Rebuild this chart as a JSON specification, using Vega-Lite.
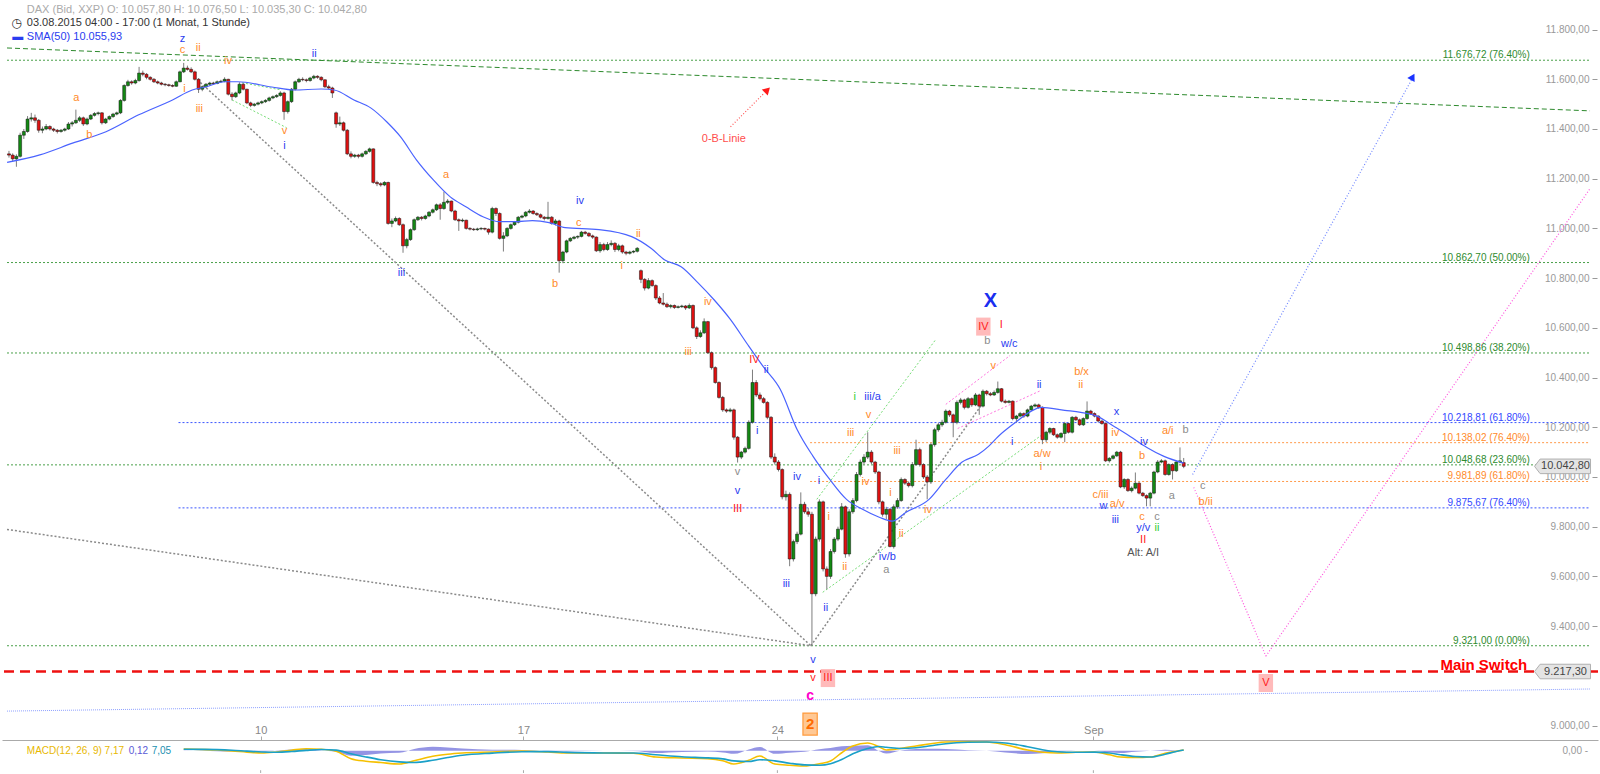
{
"$schema":"https://vega.github.io/schema/vega-lite/v6.json",
"width":1600,"height":774,"padding":0,
"autosize":{"type":"fit","contains":"padding"},
"background":"#ffffff",
"config":{"view":{"stroke":null},"font":"Liberation Sans"},
"datasets":{
"candles":[
{"b":0,"o":11300,"h":11312,"l":11285,"c":11295},{"b":1,"o":11295,"h":11302,"l":11270,"c":11280},{"b":2,"o":11280,"h":11298,"l":11248,"c":11290},{"b":3,"o":11290,"h":11385,"l":11285,"c":11375},{"b":4,"o":11375,"h":11400,"l":11360,"c":11390},{"b":5,"o":11390,"h":11452,"l":11385,"c":11440},{"b":6,"o":11440,"h":11465,"l":11430,"c":11445},{"b":7,"o":11445,"h":11458,"l":11425,"c":11435},{"b":8,"o":11435,"h":11440,"l":11385,"c":11395},{"b":9,"o":11395,"h":11410,"l":11383,"c":11400},
{"b":10,"o":11400,"h":11420,"l":11395,"c":11410},{"b":11,"o":11410,"h":11415,"l":11394,"c":11400},{"b":12,"o":11400,"h":11405,"l":11388,"c":11395},{"b":13,"o":11395,"h":11400,"l":11382,"c":11390},{"b":14,"o":11390,"h":11400,"l":11385,"c":11395},{"b":15,"o":11395,"h":11405,"l":11390,"c":11400},{"b":16,"o":11400,"h":11428,"l":11396,"c":11420},{"b":17,"o":11420,"h":11432,"l":11410,"c":11425},{"b":18,"o":11425,"h":11478,"l":11420,"c":11435},{"b":19,"o":11435,"h":11452,"l":11428,"c":11445},
{"b":20,"o":11445,"h":11450,"l":11412,"c":11420},{"b":21,"o":11420,"h":11446,"l":11415,"c":11440},{"b":22,"o":11440,"h":11460,"l":11436,"c":11455},{"b":23,"o":11455,"h":11468,"l":11450,"c":11462},{"b":24,"o":11462,"h":11470,"l":11455,"c":11465},{"b":25,"o":11465,"h":11468,"l":11418,"c":11425},{"b":26,"o":11425,"h":11445,"l":11420,"c":11440},{"b":27,"o":11440,"h":11455,"l":11435,"c":11450},{"b":28,"o":11450,"h":11465,"l":11445,"c":11460},{"b":29,"o":11460,"h":11470,"l":11455,"c":11465},
{"b":30,"o":11465,"h":11520,"l":11460,"c":11515},{"b":31,"o":11515,"h":11580,"l":11510,"c":11575},{"b":32,"o":11575,"h":11598,"l":11570,"c":11590},{"b":33,"o":11590,"h":11596,"l":11578,"c":11585},{"b":34,"o":11585,"h":11602,"l":11580,"c":11595},{"b":35,"o":11595,"h":11650,"l":11590,"c":11625},{"b":36,"o":11625,"h":11635,"l":11612,"c":11620},{"b":37,"o":11620,"h":11625,"l":11600,"c":11608},{"b":38,"o":11608,"h":11612,"l":11595,"c":11600},{"b":39,"o":11600,"h":11605,"l":11585,"c":11590},
{"b":40,"o":11590,"h":11595,"l":11580,"c":11585},{"b":41,"o":11585,"h":11590,"l":11575,"c":11580},{"b":42,"o":11580,"h":11585,"l":11572,"c":11578},{"b":43,"o":11578,"h":11582,"l":11570,"c":11575},{"b":44,"o":11575,"h":11580,"l":11568,"c":11572},{"b":45,"o":11572,"h":11595,"l":11570,"c":11590},{"b":46,"o":11590,"h":11635,"l":11588,"c":11630},{"b":47,"o":11630,"h":11666,"l":11625,"c":11645},{"b":48,"o":11645,"h":11655,"l":11635,"c":11640},{"b":49,"o":11640,"h":11648,"l":11625,"c":11630},
{"b":50,"o":11630,"h":11635,"l":11595,"c":11600},{"b":51,"o":11600,"h":11605,"l":11545,"c":11560},{"b":52,"o":11560,"h":11575,"l":11552,"c":11570},{"b":53,"o":11570,"h":11585,"l":11565,"c":11580},{"b":54,"o":11580,"h":11590,"l":11575,"c":11585},{"b":55,"o":11585,"h":11590,"l":11578,"c":11583},{"b":56,"o":11583,"h":11595,"l":11580,"c":11590},{"b":57,"o":11590,"h":11598,"l":11585,"c":11592},{"b":58,"o":11592,"h":11608,"l":11588,"c":11600},{"b":59,"o":11600,"h":11602,"l":11535,"c":11540},
{"b":60,"o":11540,"h":11548,"l":11515,"c":11530},{"b":61,"o":11530,"h":11550,"l":11525,"c":11545},{"b":62,"o":11545,"h":11588,"l":11540,"c":11580},{"b":63,"o":11580,"h":11585,"l":11555,"c":11560},{"b":64,"o":11560,"h":11562,"l":11500,"c":11505},{"b":65,"o":11505,"h":11510,"l":11488,"c":11495},{"b":66,"o":11495,"h":11505,"l":11490,"c":11500},{"b":67,"o":11500,"h":11510,"l":11495,"c":11505},{"b":68,"o":11505,"h":11515,"l":11500,"c":11510},{"b":69,"o":11510,"h":11520,"l":11505,"c":11515},
{"b":70,"o":11515,"h":11530,"l":11510,"c":11525},{"b":71,"o":11525,"h":11535,"l":11520,"c":11530},{"b":72,"o":11530,"h":11540,"l":11525,"c":11535},{"b":73,"o":11535,"h":11552,"l":11530,"c":11545},{"b":74,"o":11545,"h":11550,"l":11437,"c":11470},{"b":75,"o":11470,"h":11515,"l":11462,"c":11510},{"b":76,"o":11510,"h":11565,"l":11505,"c":11560},{"b":77,"o":11560,"h":11595,"l":11555,"c":11590},{"b":78,"o":11590,"h":11606,"l":11585,"c":11600},{"b":79,"o":11600,"h":11608,"l":11592,"c":11598},
{"b":80,"o":11598,"h":11603,"l":11588,"c":11595},{"b":81,"o":11595,"h":11610,"l":11590,"c":11605},{"b":82,"o":11605,"h":11618,"l":11600,"c":11612},{"b":83,"o":11612,"h":11616,"l":11602,"c":11608},{"b":84,"o":11608,"h":11612,"l":11592,"c":11598},{"b":85,"o":11598,"h":11600,"l":11565,"c":11570},{"b":86,"o":11570,"h":11578,"l":11560,"c":11565},{"b":87,"o":11565,"h":11570,"l":11525,"c":11545},{"b":88,"o":11465,"h":11470,"l":11405,"c":11420},{"b":89,"o":11420,"h":11450,"l":11412,"c":11425},
{"b":90,"o":11425,"h":11430,"l":11390,"c":11395},{"b":91,"o":11395,"h":11400,"l":11295,"c":11300},{"b":92,"o":11300,"h":11310,"l":11282,"c":11290},{"b":93,"o":11290,"h":11300,"l":11284,"c":11295},{"b":94,"o":11295,"h":11300,"l":11282,"c":11290},{"b":95,"o":11290,"h":11305,"l":11285,"c":11300},{"b":96,"o":11300,"h":11315,"l":11295,"c":11310},{"b":97,"o":11310,"h":11325,"l":11305,"c":11320},{"b":98,"o":11320,"h":11322,"l":11180,"c":11185},{"b":99,"o":11185,"h":11192,"l":11170,"c":11180},
{"b":100,"o":11180,"h":11186,"l":11168,"c":11175},{"b":101,"o":11175,"h":11190,"l":11170,"c":11185},{"b":102,"o":11185,"h":11188,"l":11015,"c":11020},{"b":103,"o":11020,"h":11040,"l":11005,"c":11030},{"b":104,"o":11030,"h":11048,"l":11025,"c":11040},{"b":105,"o":11040,"h":11045,"l":11010,"c":11015},{"b":106,"o":11015,"h":11020,"l":10902,"c":10930},{"b":107,"o":10930,"h":10962,"l":10920,"c":10955},{"b":108,"o":10955,"h":11000,"l":10950,"c":10995},{"b":109,"o":10995,"h":11040,"l":10990,"c":11035},
{"b":110,"o":11035,"h":11050,"l":11030,"c":11045},{"b":111,"o":11045,"h":11050,"l":11032,"c":11040},{"b":112,"o":11040,"h":11055,"l":11035,"c":11050},{"b":113,"o":11050,"h":11070,"l":11045,"c":11065},{"b":114,"o":11065,"h":11080,"l":11060,"c":11075},{"b":115,"o":11075,"h":11100,"l":11070,"c":11095},{"b":116,"o":11095,"h":11102,"l":11035,"c":11080},{"b":117,"o":11080,"h":11148,"l":11075,"c":11105},{"b":118,"o":11105,"h":11118,"l":11098,"c":11110},{"b":119,"o":11110,"h":11112,"l":11065,"c":11070},
{"b":120,"o":11070,"h":11075,"l":11030,"c":11035},{"b":121,"o":11035,"h":11040,"l":10990,"c":11030},{"b":122,"o":11030,"h":11040,"l":11025,"c":11033},{"b":123,"o":11033,"h":11035,"l":10995,"c":11000},{"b":124,"o":11000,"h":11005,"l":10992,"c":10997},{"b":125,"o":10997,"h":11002,"l":10990,"c":10995},{"b":126,"o":10995,"h":11003,"l":10990,"c":10998},{"b":127,"o":10998,"h":11005,"l":10993,"c":11000},{"b":128,"o":11000,"h":11003,"l":10992,"c":10997},{"b":129,"o":10997,"h":11000,"l":10975,"c":10985},
{"b":130,"o":10985,"h":11087,"l":10980,"c":11080},{"b":131,"o":11080,"h":11085,"l":11050,"c":11060},{"b":132,"o":11060,"h":11065,"l":10955,"c":10960},{"b":133,"o":10960,"h":10985,"l":10907,"c":10970},{"b":134,"o":10970,"h":11005,"l":10965,"c":11000},{"b":135,"o":11000,"h":11020,"l":10995,"c":11015},{"b":136,"o":11015,"h":11030,"l":11010,"c":11025},{"b":137,"o":11025,"h":11050,"l":11020,"c":11045},{"b":138,"o":11045,"h":11055,"l":11040,"c":11050},{"b":139,"o":11050,"h":11070,"l":11045,"c":11065},
{"b":140,"o":11065,"h":11078,"l":11060,"c":11070},{"b":141,"o":11070,"h":11074,"l":11055,"c":11060},{"b":142,"o":11060,"h":11065,"l":11050,"c":11055},{"b":143,"o":11055,"h":11060,"l":11040,"c":11045},{"b":144,"o":11045,"h":11050,"l":11032,"c":11040},{"b":145,"o":11040,"h":11107,"l":11035,"c":11045},{"b":146,"o":11045,"h":11050,"l":11015,"c":11020},{"b":147,"o":11020,"h":11038,"l":11012,"c":11030},{"b":148,"o":11030,"h":11035,"l":10822,"c":10870},{"b":149,"o":10870,"h":10910,"l":10860,"c":10905},
{"b":150,"o":10905,"h":10955,"l":10900,"c":10950},{"b":151,"o":10950,"h":10965,"l":10945,"c":10960},{"b":152,"o":10960,"h":10970,"l":10955,"c":10965},{"b":153,"o":10965,"h":10972,"l":10958,"c":10968},{"b":154,"o":10968,"h":10990,"l":10964,"c":10985},{"b":155,"o":10985,"h":10990,"l":10975,"c":10980},{"b":156,"o":10980,"h":10985,"l":10965,"c":10970},{"b":157,"o":10970,"h":10975,"l":10958,"c":10965},{"b":158,"o":10965,"h":10968,"l":10905,"c":10910},{"b":159,"o":10910,"h":10945,"l":10902,"c":10935},
{"b":160,"o":10935,"h":10942,"l":10908,"c":10915},{"b":161,"o":10915,"h":10945,"l":10910,"c":10935},{"b":162,"o":10935,"h":10952,"l":10928,"c":10940},{"b":163,"o":10940,"h":10945,"l":10905,"c":10915},{"b":164,"o":10915,"h":10938,"l":10908,"c":10930},{"b":165,"o":10930,"h":10935,"l":10898,"c":10905},{"b":166,"o":10905,"h":10910,"l":10892,"c":10900},{"b":167,"o":10900,"h":10910,"l":10895,"c":10905},{"b":168,"o":10905,"h":10912,"l":10900,"c":10908},{"b":169,"o":10908,"h":10925,"l":10903,"c":10920},
{"b":170,"o":10830,"h":10835,"l":10780,"c":10795},{"b":171,"o":10795,"h":10800,"l":10750,"c":10760},{"b":172,"o":10760,"h":10800,"l":10755,"c":10790},{"b":173,"o":10790,"h":10795,"l":10765,"c":10770},{"b":174,"o":10770,"h":10775,"l":10712,"c":10720},{"b":175,"o":10720,"h":10728,"l":10695,"c":10700},{"b":176,"o":10700,"h":10740,"l":10690,"c":10695},{"b":177,"o":10695,"h":10702,"l":10680,"c":10685},{"b":178,"o":10685,"h":10695,"l":10678,"c":10690},{"b":179,"o":10690,"h":10694,"l":10676,"c":10682},
{"b":180,"o":10682,"h":10690,"l":10678,"c":10685},{"b":181,"o":10685,"h":10693,"l":10680,"c":10688},{"b":182,"o":10688,"h":10692,"l":10672,"c":10680},{"b":183,"o":10680,"h":10698,"l":10676,"c":10690},{"b":184,"o":10690,"h":10694,"l":10595,"c":10600},{"b":185,"o":10600,"h":10606,"l":10555,"c":10565},{"b":186,"o":10565,"h":10590,"l":10560,"c":10580},{"b":187,"o":10580,"h":10638,"l":10575,"c":10625},{"b":188,"o":10625,"h":10628,"l":10495,"c":10500},{"b":189,"o":10500,"h":10505,"l":10432,"c":10440},
{"b":190,"o":10440,"h":10445,"l":10375,"c":10380},{"b":191,"o":10380,"h":10385,"l":10315,"c":10320},{"b":192,"o":10320,"h":10326,"l":10262,"c":10270},{"b":193,"o":10270,"h":10276,"l":10258,"c":10265},{"b":194,"o":10265,"h":10278,"l":10260,"c":10270},{"b":195,"o":10270,"h":10275,"l":10150,"c":10160},{"b":196,"o":10160,"h":10165,"l":10058,"c":10080},{"b":197,"o":10080,"h":10105,"l":10072,"c":10100},{"b":198,"o":10100,"h":10122,"l":10094,"c":10115},{"b":199,"o":10115,"h":10228,"l":10110,"c":10220},
{"b":200,"o":10220,"h":10432,"l":10215,"c":10380},{"b":201,"o":10380,"h":10390,"l":10322,"c":10330},{"b":202,"o":10330,"h":10340,"l":10308,"c":10315},{"b":203,"o":10315,"h":10322,"l":10295,"c":10300},{"b":204,"o":10300,"h":10305,"l":10232,"c":10240},{"b":205,"o":10240,"h":10245,"l":10072,"c":10080},{"b":206,"o":10080,"h":10095,"l":10050,"c":10060},{"b":207,"o":10060,"h":10068,"l":10022,"c":10030},{"b":208,"o":10030,"h":10035,"l":9910,"c":9920},{"b":209,"o":9920,"h":9945,"l":9905,"c":9930},
{"b":210,"o":9930,"h":9938,"l":9641,"c":9670},{"b":211,"o":9670,"h":9748,"l":9660,"c":9740},{"b":212,"o":9740,"h":9780,"l":9730,"c":9770},{"b":213,"o":9770,"h":9938,"l":9765,"c":9890},{"b":214,"o":9890,"h":9900,"l":9852,"c":9860},{"b":215,"o":9860,"h":9875,"l":9840,"c":9850},{"b":216,"o":9850,"h":9860,"l":9321,"c":9530},{"b":217,"o":9530,"h":9760,"l":9520,"c":9750},{"b":218,"o":9750,"h":9910,"l":9740,"c":9900},{"b":219,"o":9900,"h":9905,"l":9620,"c":9630},
{"b":220,"o":9630,"h":9640,"l":9548,"c":9600},{"b":221,"o":9600,"h":9710,"l":9590,"c":9700},{"b":222,"o":9700,"h":9758,"l":9692,"c":9750},{"b":223,"o":9750,"h":9800,"l":9742,"c":9790},{"b":224,"o":9790,"h":9895,"l":9785,"c":9880},{"b":225,"o":9880,"h":9885,"l":9675,"c":9690},{"b":226,"o":9690,"h":9870,"l":9680,"c":9860},{"b":227,"o":9860,"h":9915,"l":9852,"c":9905},{"b":228,"o":9905,"h":10020,"l":9898,"c":10010},{"b":229,"o":10010,"h":10070,"l":10002,"c":10060},
{"b":230,"o":10060,"h":10092,"l":10050,"c":10080},{"b":231,"o":10080,"h":10180,"l":10072,"c":10100},{"b":232,"o":10100,"h":10108,"l":10052,"c":10060},{"b":233,"o":10060,"h":10065,"l":10012,"c":10020},{"b":234,"o":10020,"h":10025,"l":9890,"c":9900},{"b":235,"o":9900,"h":9905,"l":9840,"c":9850},{"b":236,"o":9850,"h":9880,"l":9830,"c":9870},{"b":237,"o":9870,"h":9875,"l":9717,"c":9720},{"b":238,"o":9720,"h":9890,"l":9712,"c":9880},{"b":239,"o":9880,"h":9915,"l":9872,"c":9905},
{"b":240,"o":9905,"h":9998,"l":9900,"c":9990},{"b":241,"o":9990,"h":9995,"l":9968,"c":9975},{"b":242,"o":9975,"h":9982,"l":9958,"c":9965},{"b":243,"o":9965,"h":10060,"l":9958,"c":10050},{"b":244,"o":10050,"h":10150,"l":10045,"c":10110},{"b":245,"o":10110,"h":10118,"l":10042,"c":10050},{"b":246,"o":10050,"h":10055,"l":9992,"c":10000},{"b":247,"o":10000,"h":10008,"l":9910,"c":9980},{"b":248,"o":9980,"h":10138,"l":9972,"c":10130},{"b":249,"o":10130,"h":10198,"l":10122,"c":10190},
{"b":250,"o":10190,"h":10218,"l":10182,"c":10210},{"b":251,"o":10210,"h":10230,"l":10202,"c":10220},{"b":252,"o":10220,"h":10272,"l":10215,"c":10265},{"b":253,"o":10265,"h":10270,"l":10242,"c":10250},{"b":254,"o":10250,"h":10255,"l":10160,"c":10220},{"b":255,"o":10220,"h":10308,"l":10212,"c":10300},{"b":256,"o":10300,"h":10318,"l":10292,"c":10310},{"b":257,"o":10310,"h":10315,"l":10272,"c":10280},{"b":258,"o":10280,"h":10322,"l":10275,"c":10315},{"b":259,"o":10315,"h":10320,"l":10282,"c":10290},
{"b":260,"o":10290,"h":10338,"l":10285,"c":10330},{"b":261,"o":10330,"h":10335,"l":10250,"c":10285},{"b":262,"o":10285,"h":10352,"l":10280,"c":10345},{"b":263,"o":10345,"h":10350,"l":10328,"c":10335},{"b":264,"o":10335,"h":10342,"l":10325,"c":10330},{"b":265,"o":10330,"h":10348,"l":10326,"c":10340},{"b":266,"o":10340,"h":10384,"l":10335,"c":10355},{"b":267,"o":10355,"h":10358,"l":10300,"c":10305},{"b":268,"o":10305,"h":10312,"l":10295,"c":10300},{"b":269,"o":10300,"h":10310,"l":10296,"c":10305},
{"b":270,"o":10305,"h":10308,"l":10228,"c":10235},{"b":271,"o":10235,"h":10250,"l":10218,"c":10245},{"b":272,"o":10245,"h":10262,"l":10240,"c":10255},{"b":273,"o":10255,"h":10260,"l":10238,"c":10245},{"b":274,"o":10245,"h":10275,"l":10240,"c":10270},{"b":275,"o":10270,"h":10290,"l":10265,"c":10285},{"b":276,"o":10285,"h":10296,"l":10280,"c":10290},{"b":277,"o":10290,"h":10295,"l":10274,"c":10280},{"b":278,"o":10280,"h":10284,"l":10132,"c":10150},{"b":279,"o":10150,"h":10186,"l":10140,"c":10180},
{"b":280,"o":10180,"h":10200,"l":10172,"c":10195},{"b":281,"o":10195,"h":10198,"l":10165,"c":10170},{"b":282,"o":10170,"h":10175,"l":10154,"c":10160},{"b":283,"o":10160,"h":10180,"l":10155,"c":10175},{"b":284,"o":10175,"h":10222,"l":10140,"c":10215},{"b":285,"o":10215,"h":10218,"l":10175,"c":10180},{"b":286,"o":10180,"h":10245,"l":10175,"c":10240},{"b":287,"o":10240,"h":10246,"l":10225,"c":10230},{"b":288,"o":10230,"h":10235,"l":10205,"c":10210},{"b":289,"o":10210,"h":10240,"l":10205,"c":10235},
{"b":290,"o":10235,"h":10304,"l":10230,"c":10265},{"b":291,"o":10265,"h":10270,"l":10250,"c":10255},{"b":292,"o":10255,"h":10260,"l":10240,"c":10245},{"b":293,"o":10245,"h":10248,"l":10220,"c":10225},{"b":294,"o":10225,"h":10230,"l":10210,"c":10215},{"b":295,"o":10215,"h":10220,"l":10060,"c":10065},{"b":296,"o":10065,"h":10080,"l":10058,"c":10075},{"b":297,"o":10075,"h":10090,"l":10070,"c":10085},{"b":298,"o":10085,"h":10105,"l":10080,"c":10100},{"b":299,"o":10100,"h":10105,"l":9955,"c":9960},
{"b":300,"o":9960,"h":9995,"l":9952,"c":9990},{"b":301,"o":9990,"h":9995,"l":9940,"c":9945},{"b":302,"o":9945,"h":9962,"l":9938,"c":9955},{"b":303,"o":9955,"h":10018,"l":9950,"c":9975},{"b":304,"o":9975,"h":9980,"l":9930,"c":9935},{"b":305,"o":9935,"h":9940,"l":9920,"c":9925},{"b":306,"o":9925,"h":9930,"l":9882,"c":9915},{"b":307,"o":9915,"h":9940,"l":9882,"c":9935},{"b":308,"o":9935,"h":10025,"l":9930,"c":10020},{"b":309,"o":10020,"h":10068,"l":10015,"c":10060},
{"b":310,"o":10060,"h":10072,"l":10055,"c":10065},{"b":311,"o":10065,"h":10070,"l":10005,"c":10010},{"b":312,"o":10010,"h":10055,"l":10005,"c":10050},{"b":313,"o":10050,"h":10055,"l":9990,"c":10025},{"b":314,"o":10025,"h":10065,"l":10020,"c":10060},{"b":315,"o":10060,"h":10119,"l":10055,"c":10065},{"b":316,"o":10057.8,"h":10076.5,"l":10035.3,"c":10042.8}
],
"sma":[
{"b":-0.5,"p":11266},{"b":8.3,"p":11296},{"b":17.3,"p":11344},{"b":26.1,"p":11389},{"b":34.9,"p":11457},{"b":44,"p":11517},{"b":49.3,"p":11557},{"b":52.8,"p":11569},{"b":58.1,"p":11590},{"b":61.6,"p":11590},{"b":70.7,"p":11569},{"b":76.8,"p":11557},{"b":84,"p":11561},{"b":87.5,"p":11557},{"b":92.8,"p":11517},{"b":97.3,"p":11485},{"b":101.6,"p":11429},{"b":105.3,"p":11369},{"b":109.6,"p":11276},{"b":114.1,"p":11196},{"b":118.7,"p":11127},{"b":122.9,"p":11087},{"b":127.5,"p":11047},{"b":132,"p":11027},{"b":136.3,"p":11027},{"b":140.8,"p":11031},{"b":145.3,"p":11023},{"b":149.6,"p":11003},{"b":158.7,"p":10995},{"b":167.5,"p":10967},{"b":172.8,"p":10919},{"b":176.3,"p":10874},{"b":180.8,"p":10846},{"b":185.3,"p":10782},{"b":189.6,"p":10714},{"b":194.1,"p":10633},{"b":198.7,"p":10533},{"b":202.9,"p":10444},{"b":207.5,"p":10352},{"b":212,"p":10191},{"b":216.3,"p":10083},{"b":220.8,"p":9990},{"b":225.3,"p":9910},{"b":229.6,"p":9870},{"b":234.1,"p":9838},{"b":237.6,"p":9822},{"b":241.3,"p":9858},{"b":247.5,"p":9910},{"b":252,"p":9990},{"b":256.3,"p":10059},{"b":260.8,"p":10091},{"b":263.5,"p":10123},{"b":266.1,"p":10163},{"b":270.7,"p":10219},{"b":274.9,"p":10264},{"b":277.6,"p":10280},{"b":284,"p":10268},{"b":288.3,"p":10260},{"b":292.8,"p":10244},{"b":297.3,"p":10203},{"b":301.6,"p":10163},{"b":306.1,"p":10119},{"b":310.7,"p":10083},{"b":316,"p":10055.93}
],
"fib":[
{"v":11676.72,"t":"11.676,72 (76.40%)","k":"fg","b0":-0.53},
{"v":10862.70,"t":"10.862,70 (50.00%)","k":"fg","b0":-0.53},
{"v":10498.86,"t":"10.498,86 (38.20%)","k":"fg","b0":-0.53},
{"v":10218.81,"t":"10.218,81 (61.80%)","k":"fb","b0":45.6},
{"v":10138.02,"t":"10.138,02 (76.40%)","k":"fo","b0":215.5},
{"v":10048.68,"t":"10.048,68 (23.60%)","k":"fg","b0":-0.53},
{"v":9981.89,"t":"9.981,89 (61.80%)","k":"fo","b0":215.5},
{"v":9875.67,"t":"9.875,67 (76.40%)","k":"fb","b0":45.6},
{"v":9321.00,"t":"9.321,00 (0.00%)","k":"fg","b0":-0.53}
],
"seg":[
{"g":"grey","b":50.7,"p":11598,"b2":215.7,"p2":9321},
{"g":"grey","b":-0.53,"p":9789,"b2":215.7,"p2":9321},
{"g":"grey","b":215.7,"p":9321,"b2":262.1,"p2":10300},
{"g":"lg","b":62.7,"p":11586,"b2":73.3,"p2":11557},
{"g":"lg","b":60,"p":11517,"b2":74.7,"p2":11405},
{"g":"lg","b":217.3,"p":9910,"b2":249.3,"p2":10553},
{"g":"lg","b":218.9,"p":9536,"b2":278.4,"p2":10175},
{"g":"pink","b":252,"p":10292,"b2":269.3,"p2":10489},
{"g":"pink","b":255.2,"p":10195,"b2":277.6,"p2":10348},
{"g":"mag","b":318.7,"p":9958,"b2":338.1,"p2":9279},
{"g":"mag","b":338.1,"p":9279,"b2":425.3,"p2":11160},
{"g":"bproj","b":318.4,"p":10010,"b2":377.6,"p2":11606},
{"g":"red","b":194.1,"p":11409,"b2":203.2,"p2":11545},
{"g":"gd","b":-0.53,"p":11726,"b2":425.3,"p2":11473},
{"g":"bfaint","b":-0.53,"p":9058,"b2":425.3,"p2":9147}
],
"lbl":[
{"t":"z","k":"b","b":46.7,"p":11762},{"t":"c","k":"o","b":46.7,"p":11718},{"t":"ii","k":"o","b":50.9,"p":11726},{"t":"iv","k":"o","b":58.9,"p":11674},{"t":"ii","k":"b","b":82.1,"p":11702},
{"t":"a","k":"o","b":18.1,"p":11525},{"t":"b","k":"o","b":21.6,"p":11377},{"t":"i","k":"o","b":47.2,"p":11561},{"t":"iii","k":"o","b":51.2,"p":11481},{"t":"v","k":"o","b":74.1,"p":11393},{"t":"i","k":"b","b":74.1,"p":11332},
{"t":"a","k":"o","b":117.6,"p":11216},{"t":"iv","k":"b","b":153.6,"p":11111},{"t":"c","k":"o","b":153.3,"p":11023},{"t":"ii","k":"o","b":169.3,"p":10979},{"t":"i","k":"o","b":164.8,"p":10850},{"t":"iii","k":"b","b":105.6,"p":10822},{"t":"b","k":"o","b":146.9,"p":10778},
{"t":"iv","k":"o","b":188,"p":10702},{"t":"iii","k":"o","b":182.7,"p":10501},{"t":"IV","k":"r","b":200.5,"p":10472},{"t":"ii","k":"b","b":203.7,"p":10432},{"t":"i","k":"b","b":201.3,"p":10183},{"t":"v","k":"gr","b":196,"p":10018},{"t":"v","k":"b","b":196,"p":9942},{"t":"III","k":"r","b":196,"p":9870},
{"t":"iv","k":"b","b":212,"p":9998},{"t":"i","k":"b","b":217.9,"p":9982},{"t":"i","k":"o","b":220.5,"p":9838},{"t":"ii","k":"o","b":224.8,"p":9637},{"t":"iii","k":"b","b":209.1,"p":9569},{"t":"ii","k":"b","b":219.7,"p":9472},{"t":"v","k":"b","b":216.3,"p":9263},
{"t":"i","k":"g","b":227.5,"p":10320},{"t":"iii/a","k":"b","b":232.3,"p":10320},{"t":"v","k":"o","b":231.2,"p":10251},{"t":"iii","k":"o","b":226.4,"p":10175},{"t":"iv","k":"o","b":230.4,"p":9978},{"t":"i","k":"o","b":237.1,"p":9934},{"t":"iii","k":"o","b":238.9,"p":10103},{"t":"ii","k":"o","b":240,"p":9769},{"t":"iv","k":"o","b":247.2,"p":9866},{"t":"iv/b","k":"b","b":236.3,"p":9677},{"t":"a","k":"gr","b":236,"p":9625},
{"t":"v","k":"r","b":216.3,"p":9191},{"t":"III","k":"r","b":220.3,"p":9191},
{"t":"IV","k":"r","b":262.1,"p":10605},{"t":"I","k":"r","b":266.9,"p":10613},{"t":"b","k":"gr","b":263.2,"p":10549},{"t":"w/c","k":"b","b":269.1,"p":10537},{"t":"v","k":"o","b":264.8,"p":10448},
{"t":"b/x","k":"o","b":288.5,"p":10424},{"t":"ii","k":"o","b":288.3,"p":10372},{"t":"ii","k":"b","b":277.1,"p":10372},{"t":"x","k":"b","b":297.9,"p":10260},{"t":"i","k":"b","b":269.9,"p":10139},{"t":"a/w","k":"o","b":277.9,"p":10091},{"t":"i","k":"o","b":277.6,"p":10039},
{"t":"iv","k":"o","b":297.6,"p":10175},{"t":"iv","k":"b","b":305.3,"p":10139},{"t":"b","k":"o","b":304.8,"p":10083},{"t":"a/i","k":"o","b":311.7,"p":10183},{"t":"b","k":"gr","b":316.5,"p":10187},{"t":"a","k":"gr","b":312.8,"p":9922},
{"t":"c/iii","k":"o","b":293.6,"p":9926},{"t":"w","k":"b","b":294.4,"p":9882},{"t":"a/v","k":"o","b":298.1,"p":9890},{"t":"iii","k":"b","b":297.6,"p":9826},{"t":"c","k":"o","b":304.8,"p":9838},{"t":"c","k":"gr","b":308.8,"p":9838},{"t":"y/v","k":"b","b":305.1,"p":9793},{"t":"ii","k":"g","b":308.8,"p":9793},{"t":"II","k":"r","b":305.1,"p":9745},
{"t":"c","k":"gr","b":321.1,"p":9962},{"t":"b/ii","k":"o","b":321.9,"p":9898},{"t":"V","k":"r","b":338.1,"p":9171}
],
"macd":[
{"b":47,"m":17,"s":15,"h":2},{"b":52,"m":12,"s":14,"h":-2},{"b":56,"m":7,"s":11,"h":-4},{"b":60,"m":-2,"s":5,"h":-7},{"b":64,"m":-14,"s":-4,"h":-10},{"b":68,"m":-23,"s":-12,"h":-11},{"b":72,"m":-12,"s":-15,"h":3},{"b":76,"m":5,"s":-8,"h":13},{"b":80,"m":20,"s":4,"h":16},{"b":84,"m":15,"s":12,"h":3},{"b":88,"m":-5,"s":6,"h":-11},{"b":92,"m":-80,"s":-30,"h":-50},{"b":96,"m":-105,"s":-62,"h":-43},{"b":100,"m":-118,"s":-90,"h":-28},{"b":105,"m":-133,"s":-112,"h":-21},{"b":109,"m":-100,"s":-118,"h":18},{"b":114,"m":-55,"s":-95,"h":40},{"b":118,"m":-35,"s":-68,"h":33},{"b":122,"m":-23,"s":-45,"h":22},{"b":130,"m":-13,"s":-24,"h":11},{"b":138,"m":-3,"s":-10,"h":7},{"b":145,"m":-13,"s":-9,"h":-4},{"b":150,"m":-23,"s":-16,"h":-7},{"b":160,"m":-23,"s":-22,"h":-1},{"b":168,"m":-25,"s":-23,"h":-2},{"b":174,"m":-63,"s":-40,"h":-23},{"b":181,"m":-73,"s":-60,"h":-13},{"b":188,"m":-80,"s":-72,"h":-8},{"b":192,"m":-100,"s":-82,"h":-18},{"b":195,"m":-133,"s":-102,"h":-31},{"b":199,"m":-95,"s":-108,"h":13},{"b":202,"m":-53,"s":-90,"h":37},{"b":206,"m":-133,"s":-102,"h":-31},{"b":210,"m":-145,"s":-125,"h":-20},{"b":214,"m":-153,"s":-142,"h":-11},{"b":218,"m":-130,"s":-145,"h":15},{"b":221,"m":-103,"s":-130,"h":27},{"b":224,"m":-20,"s":-88,"h":45},{"b":227,"m":47,"s":-30,"h":50},{"b":231,"m":77,"s":22,"h":55},{"b":234,"m":40,"s":42,"h":-2},{"b":236,"m":7,"s":35,"h":-28},{"b":240,"m":25,"s":22,"h":3},{"b":244,"m":47,"s":30,"h":17},{"b":248,"m":70,"s":50,"h":20},{"b":252,"m":87,"s":70,"h":17},{"b":258,"m":90,"s":85,"h":5},{"b":263,"m":87,"s":88,"h":-1},{"b":268,"m":60,"s":78,"h":-18},{"b":274,"m":7,"s":40,"h":-33},{"b":278,"m":-15,"s":10,"h":-25},{"b":282,"m":-23,"s":-10,"h":-13},{"b":287,"m":-15,"s":-15,"h":0},{"b":292,"m":-13,"s":-14,"h":1},{"b":296,"m":-40,"s":-22,"h":-18},{"b":299,"m":-63,"s":-40,"h":-23},{"b":303,"m":-68,"s":-58,"h":-10},{"b":307,"m":-63,"s":-63,"h":0},{"b":311,"m":-25,"s":-35,"h":10},{"b":314,"m":-5,"s":-8,"h":3},{"b":316,"m":7.17,"s":7.05,"h":0.12}
]
},
"resolve":{"scale":{"y":"independent"}},
"layer":[
{"layer":[
{"data":{"name":"fib"},"mark":{"type":"rule","strokeDash":[2,2],"strokeWidth":1},
 "encoding":{"x":{"field":"b0","type":"quantitative","scale":{"domain":[-0.53,426.1],"nice":false,"zero":false}},"x2":{"datum":425.3},
 "y":{"field":"v","type":"quantitative","scale":{"domain":[8809,11919],"nice":false,"zero":false}},
 "stroke":{"field":"k","type":"nominal","scale":{"domain":["fg","fb","fo"],"range":["#4aa04a","#3a55ff","#ff9a4a"]},"legend":null}}},
{"data":{"name":"seg"},"transform":[{"filter":"datum.g=='grey'"}],"mark":{"type":"rule","color":"#8a8a8a","strokeDash":[2,2],"strokeWidth":1.5},
 "encoding":{"x":{"field":"b","type":"quantitative","scale":{"domain":[-0.53,426.1],"nice":false,"zero":false}},"x2":{"field":"b2"},"y":{"field":"p","type":"quantitative","scale":{"domain":[8809,11919],"nice":false,"zero":false}},"y2":{"field":"p2"}}},
{"data":{"name":"seg"},"transform":[{"filter":"datum.g=='lg'"}],"mark":{"type":"rule","color":"#77dd77","strokeDash":[2,2],"strokeWidth":1},
 "encoding":{"x":{"field":"b","type":"quantitative","scale":{"domain":[-0.53,426.1],"nice":false,"zero":false}},"x2":{"field":"b2"},"y":{"field":"p","type":"quantitative","scale":{"domain":[8809,11919],"nice":false,"zero":false}},"y2":{"field":"p2"}}},
{"data":{"name":"seg"},"transform":[{"filter":"datum.g=='pink'"}],"mark":{"type":"rule","color":"#ff77e0","strokeDash":[2,2],"strokeWidth":1},
 "encoding":{"x":{"field":"b","type":"quantitative","scale":{"domain":[-0.53,426.1],"nice":false,"zero":false}},"x2":{"field":"b2"},"y":{"field":"p","type":"quantitative","scale":{"domain":[8809,11919],"nice":false,"zero":false}},"y2":{"field":"p2"}}},
{"data":{"name":"seg"},"transform":[{"filter":"datum.g=='mag'"}],"mark":{"type":"rule","color":"#ff55dd","strokeDash":[1,2],"strokeWidth":1.2},
 "encoding":{"x":{"field":"b","type":"quantitative","scale":{"domain":[-0.53,426.1],"nice":false,"zero":false}},"x2":{"field":"b2"},"y":{"field":"p","type":"quantitative","scale":{"domain":[8809,11919],"nice":false,"zero":false}},"y2":{"field":"p2"}}},
{"data":{"name":"seg"},"transform":[{"filter":"datum.g=='bproj'"}],"mark":{"type":"rule","color":"#6f86ff","strokeDash":[1,2],"strokeWidth":1.2},
 "encoding":{"x":{"field":"b","type":"quantitative","scale":{"domain":[-0.53,426.1],"nice":false,"zero":false}},"x2":{"field":"b2"},"y":{"field":"p","type":"quantitative","scale":{"domain":[8809,11919],"nice":false,"zero":false}},"y2":{"field":"p2"}}},
{"data":{"name":"seg"},"transform":[{"filter":"datum.g=='red'"}],"mark":{"type":"rule","color":"#ff5050","strokeDash":[1,2],"strokeWidth":1.2},
 "encoding":{"x":{"field":"b","type":"quantitative","scale":{"domain":[-0.53,426.1],"nice":false,"zero":false}},"x2":{"field":"b2"},"y":{"field":"p","type":"quantitative","scale":{"domain":[8809,11919],"nice":false,"zero":false}},"y2":{"field":"p2"}}},
{"data":{"name":"seg"},"transform":[{"filter":"datum.g=='gd'"}],"mark":{"type":"rule","color":"#2d8a2d","strokeDash":[5,3],"strokeWidth":1},
 "encoding":{"x":{"field":"b","type":"quantitative","scale":{"domain":[-0.53,426.1],"nice":false,"zero":false}},"x2":{"field":"b2"},"y":{"field":"p","type":"quantitative","scale":{"domain":[8809,11919],"nice":false,"zero":false}},"y2":{"field":"p2"}}},
{"data":{"name":"seg"},"transform":[{"filter":"datum.g=='bfaint'"}],"mark":{"type":"rule","color":"#8fa2ff","strokeDash":[1,1],"strokeWidth":1},
 "encoding":{"x":{"field":"b","type":"quantitative","scale":{"domain":[-0.53,426.1],"nice":false,"zero":false}},"x2":{"field":"b2"},"y":{"field":"p","type":"quantitative","scale":{"domain":[8809,11919],"nice":false,"zero":false}},"y2":{"field":"p2"}}},
{"data":{"values":[{"p":9217.3}]},"mark":{"type":"rule","color":"#ee1111","strokeDash":[10,6],"strokeWidth":2.5},
 "encoding":{"y":{"field":"p","type":"quantitative","scale":{"domain":[8809,11919],"nice":false,"zero":false}}}},
{"data":{"name":"candles"},"mark":{"type":"rule","color":"#7d7d7d","strokeWidth":1},
 "encoding":{"x":{"field":"b","type":"quantitative","scale":{"domain":[-0.53,426.1],"nice":false,"zero":false}},"y":{"field":"l","type":"quantitative","scale":{"domain":[8809,11919],"nice":false,"zero":false}},"y2":{"field":"h"}}},
{"data":{"name":"candles"},"mark":{"type":"bar","width":3,"stroke":"#111111","strokeWidth":0.5},
 "encoding":{
  "x":{"field":"b","type":"quantitative","scale":{"domain":[-0.53,426.1],"nice":false,"zero":false},
   "axis":{"orient":"top","offset":-740,"values":[67.7,138.4,206.7,291.7],"labelExpr":"datum.value < 100 ? '10' : datum.value < 170 ? '17' : datum.value < 250 ? '24' : 'Sep'","title":null,"grid":false,"domain":true,"ticks":true,"labels":true,"domainColor":"#aaaaaa","tickColor":"#aaaaaa","tickSize":4,"labelColor":"#888888","labelFontSize":11,"labelPadding":1}},
  "y":{"field":"o","type":"quantitative","scale":{"domain":[8809,11919],"nice":false,"zero":false},
   "axis":{"orient":"right","offset":-6,"values":[9000,9400,9600,9800,10000,10200,10400,10600,10800,11000,11200,11400,11600,11800],"labelExpr":"replace(replace(replace(format(datum.value, ',.2f'), ',', '#'), '.', ','), '#', '.')","title":null,"grid":false,"domain":false,"ticks":true,"labels":true,"tickSize":5,"tickColor":"#999999","labelAlign":"right","labelPadding":-8,"labelColor":"#999999","labelFontSize":10,"labelBaseline":"middle"}},
  "y2":{"field":"c"},
  "color":{"condition":{"test":"datum.c >= datum.o","value":"#138a13"},"value":"#e01010"}}},
{"data":{"name":"sma"},"mark":{"type":"line","color":"#4a63ff","strokeWidth":1.2,"interpolate":"monotone"},
 "encoding":{"x":{"field":"b","type":"quantitative","scale":{"domain":[-0.53,426.1],"nice":false,"zero":false}},"y":{"field":"p","type":"quantitative","scale":{"domain":[8809,11919],"nice":false,"zero":false}}}},
{"data":{"values":[{"b":262.1,"p":10605},{"b":220.3,"p":9191},{"b":338.1,"p":9171}]},"mark":{"type":"point","shape":"M-0.8,-1H0.8V1H-0.8Z","size":324,"filled":true,"color":"#ffb3b3","opacity":0.9},
 "encoding":{"x":{"field":"b","type":"quantitative","scale":{"domain":[-0.53,426.1],"nice":false,"zero":false}},"y":{"field":"p","type":"quantitative","scale":{"domain":[8809,11919],"nice":false,"zero":false}}}},
{"data":{"values":[{"b":215.5,"p":9006}]},"mark":{"type":"point","shape":"M-0.65,-1H0.65V1H-0.65Z","size":484,"filled":true,"fill":"#ffc894","stroke":"#ff9a3c","strokeWidth":1.2,"opacity":1},
 "encoding":{"x":{"field":"b","type":"quantitative","scale":{"domain":[-0.53,426.1],"nice":false,"zero":false}},"y":{"field":"p","type":"quantitative","scale":{"domain":[8809,11919],"nice":false,"zero":false}}}},
{"data":{"name":"lbl"},"mark":{"type":"text","fontSize":11,"align":"center","baseline":"middle"},
 "encoding":{"x":{"field":"b","type":"quantitative","scale":{"domain":[-0.53,426.1],"nice":false,"zero":false}},"y":{"field":"p","type":"quantitative","scale":{"domain":[8809,11919],"nice":false,"zero":false}},"text":{"field":"t"},
  "color":{"field":"k","type":"nominal","scale":{"domain":["o","b","r","gr","g","fg","fb","fo"],"range":["#ff8a2a","#2a3cf0","#ff2020","#8c8c8c","#2ecc2e","#2e8b2e","#3347ff","#ff8a2a"]},"legend":null}}},
{"data":{"name":"fib"},"mark":{"type":"text","align":"right","baseline":"bottom","fontSize":10},
 "encoding":{"x":{"datum":409.1,"type":"quantitative","scale":{"domain":[-0.53,426.1],"nice":false,"zero":false}},"y":{"field":"v","type":"quantitative","scale":{"domain":[8809,11919],"nice":false,"zero":false}},"text":{"field":"t"},
  "color":{"field":"k","type":"nominal","scale":{"domain":["o","b","r","gr","g","fg","fb","fo"],"range":["#ff8a2a","#2a3cf0","#ff2020","#8c8c8c","#2ecc2e","#2e8b2e","#3347ff","#ff8a2a"]},"legend":null}}},
{"data":{"values":[{"b":264,"p":10706,"t":"X"}]},"mark":{"type":"text","fontSize":20,"fontWeight":"bold","color":"#1a2ef0","align":"center","baseline":"middle"},
 "encoding":{"x":{"field":"b","type":"quantitative","scale":{"domain":[-0.53,426.1],"nice":false,"zero":false}},"y":{"field":"p","type":"quantitative","scale":{"domain":[8809,11919],"nice":false,"zero":false}},"text":{"field":"t"}}},
{"data":{"values":[{"b":215.5,"p":9118,"t":"c"}]},"mark":{"type":"text","fontSize":14,"fontWeight":"bold","color":"#ff00cc","align":"center","baseline":"middle"},
 "encoding":{"x":{"field":"b","type":"quantitative","scale":{"domain":[-0.53,426.1],"nice":false,"zero":false}},"y":{"field":"p","type":"quantitative","scale":{"domain":[8809,11919],"nice":false,"zero":false}},"text":{"field":"t"}}},
{"data":{"values":[{"b":215.5,"p":9006,"t":"2"}]},"mark":{"type":"text","fontSize":15,"fontWeight":"bold","color":"#ff6a00","align":"center","baseline":"middle"},
 "encoding":{"x":{"field":"b","type":"quantitative","scale":{"domain":[-0.53,426.1],"nice":false,"zero":false}},"y":{"field":"p","type":"quantitative","scale":{"domain":[8809,11919],"nice":false,"zero":false}},"text":{"field":"t"}}},
{"data":{"values":[{"b":192.3,"p":11361,"t":"0-B-Linie"}]},"mark":{"type":"text","fontSize":11,"color":"#ff4d4d","align":"center","baseline":"middle"},
 "encoding":{"x":{"field":"b","type":"quantitative","scale":{"domain":[-0.53,426.1],"nice":false,"zero":false}},"y":{"field":"p","type":"quantitative","scale":{"domain":[8809,11919],"nice":false,"zero":false}},"text":{"field":"t"}}},
{"data":{"values":[{"b":305.1,"p":9693,"t":"Alt: A/I"}]},"mark":{"type":"text","fontSize":11,"color":"#555555","align":"center","baseline":"middle"},
 "encoding":{"x":{"field":"b","type":"quantitative","scale":{"domain":[-0.53,426.1],"nice":false,"zero":false}},"y":{"field":"p","type":"quantitative","scale":{"domain":[8809,11919],"nice":false,"zero":false}},"text":{"field":"t"}}},
{"data":{"values":[{"b":408.4,"p":9217.3,"t":"Main Switch"}]},"mark":{"type":"text","fontSize":15,"fontWeight":"bold","color":"#ff0000","align":"right","baseline":"alphabetic","dy":-2},
 "encoding":{"x":{"field":"b","type":"quantitative","scale":{"domain":[-0.53,426.1],"nice":false,"zero":false}},"y":{"field":"p","type":"quantitative","scale":{"domain":[8809,11919],"nice":false,"zero":false}},"text":{"field":"t"}}},
{"data":{"values":[{"b":377.6,"p":11610}]},"mark":{"type":"point","shape":"triangle-up","angle":29,"size":70,"filled":true,"color":"#1a33ff","opacity":1},
 "encoding":{"x":{"field":"b","type":"quantitative","scale":{"domain":[-0.53,426.1],"nice":false,"zero":false}},"y":{"field":"p","type":"quantitative","scale":{"domain":[8809,11919],"nice":false,"zero":false}}}},
{"data":{"values":[{"b":204,"p":11557}]},"mark":{"type":"point","shape":"triangle-up","angle":45,"size":70,"filled":true,"color":"#ff1a1a","opacity":1},
 "encoding":{"x":{"field":"b","type":"quantitative","scale":{"domain":[-0.53,426.1],"nice":false,"zero":false}},"y":{"field":"p","type":"quantitative","scale":{"domain":[8809,11919],"nice":false,"zero":false}}}},
{"data":{"values":[{"b":417.9,"p":10042.8,"t":"10.042,80"},{"b":417.9,"p":9217.3,"t":"9.217,30"}]},"mark":{"type":"point","shape":"M-1,0L-0.8,-0.26L1,-0.26L1,0.26L-0.8,0.26Z","size":3136,"filled":true,"fill":"#e4e4e4","stroke":"#b0b0b0","strokeWidth":1,"opacity":1},
 "encoding":{"x":{"field":"b","type":"quantitative","scale":{"domain":[-0.53,426.1],"nice":false,"zero":false}},"y":{"field":"p","type":"quantitative","scale":{"domain":[8809,11919],"nice":false,"zero":false}}}},
{"data":{"values":[{"b":417.9,"p":10042.8,"t":"10.042,80"},{"b":417.9,"p":9217.3,"t":"9.217,30"}]},"mark":{"type":"text","fontSize":11,"color":"#444444","align":"center","baseline":"middle","dx":3},
 "encoding":{"x":{"field":"b","type":"quantitative","scale":{"domain":[-0.53,426.1],"nice":false,"zero":false}},"y":{"field":"p","type":"quantitative","scale":{"domain":[8809,11919],"nice":false,"zero":false}},"text":{"field":"t"}}},
{"data":{"values":[{"b":4.8,"p":11879,"t":"DAX (Bid, XXP)  O: 10.057,80  H: 10.076,50  L: 10.035,30  C: 10.042,80"}]},"mark":{"type":"text","fontSize":11,"color":"#aaaaaa","align":"left","baseline":"middle"},
 "encoding":{"x":{"field":"b","type":"quantitative","scale":{"domain":[-0.53,426.1],"nice":false,"zero":false}},"y":{"field":"p","type":"quantitative","scale":{"domain":[8809,11919],"nice":false,"zero":false}},"text":{"field":"t"}}},
{"data":{"values":[{"b":4.8,"p":11827,"t":"03.08.2015 04:00 - 17:00 (1 Monat, 1 Stunde)"}]},"mark":{"type":"text","fontSize":11,"color":"#333333","align":"left","baseline":"middle"},
 "encoding":{"x":{"field":"b","type":"quantitative","scale":{"domain":[-0.53,426.1],"nice":false,"zero":false}},"y":{"field":"p","type":"quantitative","scale":{"domain":[8809,11919],"nice":false,"zero":false}},"text":{"field":"t"}}},
{"data":{"values":[{"b":2.0,"p":11827,"t":"◷"}]},"mark":{"type":"text","fontSize":12,"font":"DejaVu Sans","color":"#333333","align":"center","baseline":"middle"},
 "encoding":{"x":{"field":"b","type":"quantitative","scale":{"domain":[-0.53,426.1],"nice":false,"zero":false}},"y":{"field":"p","type":"quantitative","scale":{"domain":[8809,11919],"nice":false,"zero":false}},"text":{"field":"t"}}},
{"data":{"values":[{"b":4.8,"p":11770,"t":"SMA(50)  10.055,93"},{"b":0.9,"p":11770,"t":"▬"}]},"mark":{"type":"text","fontSize":11,"color":"#2a3cf0","align":"left","baseline":"middle"},
 "encoding":{"x":{"field":"b","type":"quantitative","scale":{"domain":[-0.53,426.1],"nice":false,"zero":false}},"y":{"field":"p","type":"quantitative","scale":{"domain":[8809,11919],"nice":false,"zero":false}},"text":{"field":"t"}}}
]},
{"layer":[
{"data":{"name":"macd"},"mark":{"type":"area","color":"#6666d9","opacity":0.7,"interpolate":"monotone"},
 "encoding":{"x":{"field":"b","type":"quantitative","scale":{"domain":[-0.53,426.1],"nice":false,"zero":false}},"y":{"field":"h","type":"quantitative","scale":{"domain":[-223,7517],"nice":false,"zero":false},"axis":null},"y2":{"datum":0}}},
{"data":{"name":"macd"},"mark":{"type":"line","color":"#f5c000","strokeWidth":1.6,"interpolate":"monotone"},
 "encoding":{"x":{"field":"b","type":"quantitative","scale":{"domain":[-0.53,426.1],"nice":false,"zero":false}},"y":{"field":"m","type":"quantitative","scale":{"domain":[-223,7517],"nice":false,"zero":false},"axis":null}}},
{"data":{"name":"macd"},"mark":{"type":"line","color":"#1aa0c8","strokeWidth":1.6,"interpolate":"monotone"},
 "encoding":{"x":{"field":"b","type":"quantitative","scale":{"domain":[-0.53,426.1],"nice":false,"zero":false}},"y":{"field":"s","type":"quantitative","scale":{"domain":[-223,7517],"nice":false,"zero":false},"axis":null}}},
{"data":{"values":[{"b":67.7,"m":-195},{"b":138.4,"m":-195},{"b":206.7,"m":-195},{"b":291.7,"m":-195}]},"mark":{"type":"rule","color":"#aaaaaa","strokeWidth":1},
 "encoding":{"x":{"field":"b","type":"quantitative","scale":{"domain":[-0.53,426.1],"nice":false,"zero":false}},"y":{"field":"m","type":"quantitative","scale":{"domain":[-223,7517],"nice":false,"zero":false},"axis":null},"y2":{"datum":-223}}},
{"data":{"values":[{"b":4.8,"m":0,"t":"MACD(12, 26, 9)  7,17"}]},"mark":{"type":"text","fontSize":10,"color":"#e8b800","align":"left","baseline":"middle"},
 "encoding":{"x":{"field":"b","type":"quantitative","scale":{"domain":[-0.53,426.1],"nice":false,"zero":false}},"y":{"field":"m","type":"quantitative","scale":{"domain":[-223,7517],"nice":false,"zero":false},"axis":null},"text":{"field":"t"}}},
{"data":{"values":[{"b":32.2,"m":0,"t":"0,12"}]},"mark":{"type":"text","fontSize":10,"color":"#5a5ad6","align":"left","baseline":"middle"},
 "encoding":{"x":{"field":"b","type":"quantitative","scale":{"domain":[-0.53,426.1],"nice":false,"zero":false}},"y":{"field":"m","type":"quantitative","scale":{"domain":[-223,7517],"nice":false,"zero":false},"axis":null},"text":{"field":"t"}}},
{"data":{"values":[{"b":38.4,"m":0,"t":"7,05"}]},"mark":{"type":"text","fontSize":10,"color":"#1a8fb0","align":"left","baseline":"middle"},
 "encoding":{"x":{"field":"b","type":"quantitative","scale":{"domain":[-0.53,426.1],"nice":false,"zero":false}},"y":{"field":"m","type":"quantitative","scale":{"domain":[-223,7517],"nice":false,"zero":false},"axis":null},"text":{"field":"t"}}},
{"data":{"values":[{"b":423.7,"m":0,"t":"0,00 -"}]},"mark":{"type":"text","fontSize":10,"color":"#999999","align":"right","baseline":"middle","dx":4},
 "encoding":{"x":{"field":"b","type":"quantitative","scale":{"domain":[-0.53,426.1],"nice":false,"zero":false}},"y":{"field":"m","type":"quantitative","scale":{"domain":[-223,7517],"nice":false,"zero":false},"axis":null},"text":{"field":"t"}}}
]}
]
}
